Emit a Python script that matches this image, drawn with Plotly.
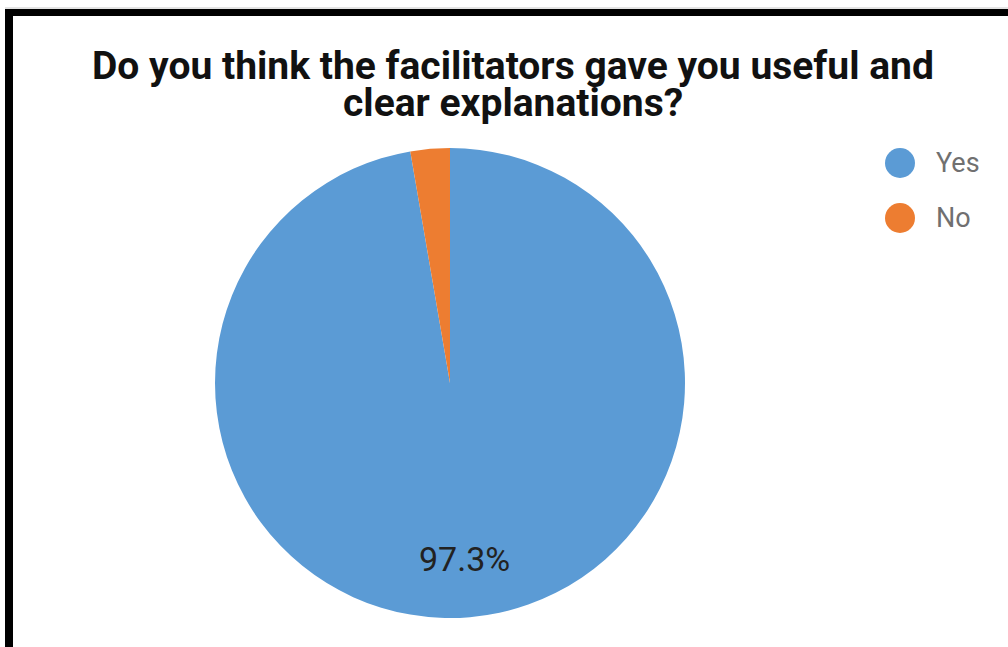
import math
import plotly.graph_objects as go

labels = ["Yes", "No"]
values = [36, 1]
colors = ["#5B9BD5", "#ED7D31"]
title_lines = ["Do you think the facilitators gave you useful and", "clear explanations?"]

W, H = 1008, 647
def px(x): return x / W
def py(y): return 1 - y / H

# pie geometry (pixels)
cx, cy, R = 450, 383, 235

fig = go.Figure()
fig.add_trace(go.Pie(
    labels=labels, values=values, sort=False, direction="clockwise", rotation=0,
    marker=dict(colors=colors, line=dict(width=0)),
    textinfo="none", showlegend=False, hoverinfo="label+percent",
    domain=dict(x=[px(cx - R), px(cx + R)], y=[py(cy + R), py(cy - R)]),
))

annotations = []
# slice labels (Google-style: at 0.75R along mid-angle, hide small slices)
total = sum(values)
cum = 0
for lab, v in zip(labels, values):
    frac = v / total
    mid = (cum + frac / 2) * 2 * math.pi
    cum += frac
    if frac < 0.05:
        continue
    lx = cx + math.sin(mid) * 0.75 * R
    ly = cy - math.cos(mid) * 0.75 * R
    annotations.append(dict(x=px(lx), y=py(ly), xref="paper", yref="paper",
                            text=f"{frac*100:.1f}%", showarrow=False,
                            xanchor="center", yanchor="middle",
                            font=dict(family="Roboto", size=34, color="#222222")))

# title lines
for i, t in enumerate(title_lines):
    annotations.append(dict(x=px(513), y=py(66 + 37 * i), xref="paper", yref="paper",
                            text=f"<b>{t}</b>", showarrow=False,
                            xanchor="center", yanchor="middle",
                            font=dict(family="Roboto", size=39, color="#111111")))

# legend (large circular markers)
shapes = []
for i, (lab, col) in enumerate(zip(labels, colors)):
    ly = 163 + 55 * i
    shapes.append(dict(type="circle", xref="paper", yref="paper",
                       x0=px(885), x1=px(915), y0=py(ly + 15), y1=py(ly - 15),
                       fillcolor=col, line=dict(width=0)))
    annotations.append(dict(x=px(934), y=py(ly), xref="paper", yref="paper",
                            text=lab, showarrow=False, xanchor="left", yanchor="middle",
                            font=dict(family="Roboto", size=27, color="#707070")))

# frame
shapes += [
    dict(type="line", xref="paper", yref="paper", x0=px(5), x1=1, y0=py(8), y1=py(8),
         line=dict(color="#c8c8c8", width=1)),
    dict(type="rect", xref="paper", yref="paper", x0=px(5), x1=px(13), y0=0, y1=py(9),
         fillcolor="black", line=dict(width=0)),
    dict(type="rect", xref="paper", yref="paper", x0=px(5), x1=1, y0=py(16), y1=py(9),
         fillcolor="black", line=dict(width=0)),
]

fig.update_layout(
    width=W, height=H,
    margin=dict(l=0, r=0, t=0, b=0),
    paper_bgcolor="white", plot_bgcolor="white",
    showlegend=False,
    annotations=annotations,
    shapes=shapes,
)
fig.write_html("out.html", config={"displayModeBar": False},
               post_script="document.body.style.margin='0';document.body.style.overflow='hidden';")
